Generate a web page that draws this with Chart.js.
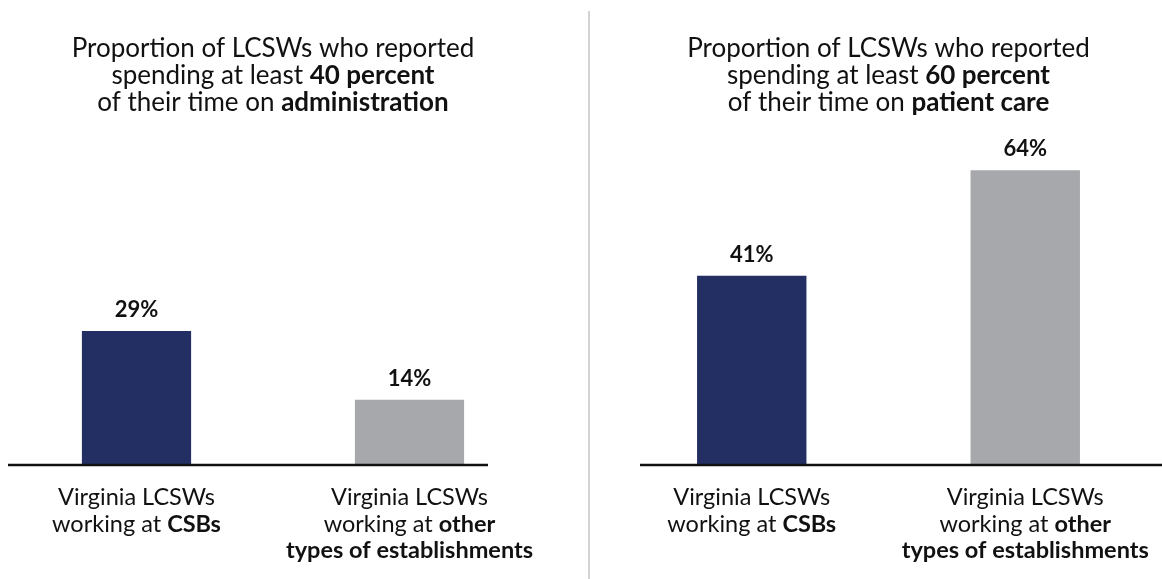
<!DOCTYPE html>
<html>
<head>
<meta charset="utf-8">
<script src="https://cdn.jsdelivr.net/npm/chart.js@4/dist/chart.umd.min.js"></script>
<style>
  html, body { margin: 0; padding: 0; background: #ffffff; }
  #wrap { position: relative; width: 1162px; height: 579px; overflow: hidden; }
  .panel { position: absolute; top: 0; height: 579px; }
  #p1 { left: 0; width: 590px; }
  #p2 { left: 591px; width: 571px; }
  #divider { position: absolute; left: 588px; top: 11px; width: 2px; height: 568px; background: #d3d3d3; }
</style>
</head>
<body>
<div id="wrap">
  <div class="panel" id="p1"><canvas id="c1"></canvas></div>
  <div id="divider"></div>
  <div class="panel" id="p2"><canvas id="c2"></canvas></div>
</div>
<script>
// ---- data ----
const categories = [
  "Virginia LCSWs\nworking at **CSBs**",
  "Virginia LCSWs\nworking at **other**\n**types of establishments**"
];
const adminValues = [29, 14];
const patientCareValues = [41, 64];
const adminTitle = "Proportion of LCSWs who reported\nspending at least **40 percent**\nof their time on **administration**";
const patientCareTitle = "Proportion of LCSWs who reported\nspending at least **60 percent**\nof their time on **patient care**";
const barColors = ["#232f62", "#a7a8ac"];

// ---- rich text helper ----
const FONT = "Lato, 'Open Sans', sans-serif";
function parseRuns(line) {
  const parts = line.split("**");
  return parts.map((t, i) => ({ t, b: i % 2 === 1 })).filter(r => r.t.length);
}
function drawRich(ctx, text, cx, y0, lh, size) {
  text.split("\n").forEach((line, li) => {
    const runs = parseRuns(line);
    let total = 0;
    runs.forEach(r => {
      ctx.font = (r.b ? "bold " : "") + size + "px " + FONT;
      r.w = ctx.measureText(r.t).width;
      total += r.w;
    });
    let x = cx - total / 2;
    runs.forEach(r => {
      ctx.font = (r.b ? "bold " : "") + size + "px " + FONT;
      ctx.fillText(r.t, x, y0 + li * lh);
      x += r.w;
    });
  });
}

const decorPlugin = {
  id: "decor",
  afterDatasetsDraw(chart, args, opts) {
    const ctx = chart.ctx;
    const area = chart.chartArea;
    ctx.save();
    ctx.fillStyle = "#111111";
    ctx.textBaseline = "alphabetic";
    ctx.textAlign = "left";
    // title
    drawRich(ctx, opts.title, (area.left + area.right) / 2, opts.titleY, opts.titleLH, opts.titleSize);
    // baseline
    const yBase = chart.scales.y.getPixelForValue(0);
    ctx.strokeStyle = "#111111";
    ctx.lineWidth = 2.5;
    ctx.beginPath();
    ctx.moveTo(opts.lineFrom, yBase + 1);
    ctx.lineTo(opts.lineTo, yBase + 1);
    ctx.stroke();
    // value labels + category labels
    const meta = chart.getDatasetMeta(0);
    meta.data.forEach((bar, i) => {
      const v = chart.data.datasets[0].data[i];
      ctx.font = "bold 22px " + FONT;
      ctx.textAlign = "center";
      ctx.fillText(v + "%", bar.x, bar.y - 14);
      ctx.textAlign = "left";
      drawRich(ctx, chart.data.labels[i], bar.x, opts.catY, opts.catLH, opts.catSize);
    });
    ctx.restore();
  }
};

function makeChart(id, values, title, padL, padR, lineFrom, lineTo) {
  return new Chart(document.getElementById(id), {
    type: "bar",
    data: {
      labels: categories,
      datasets: [{ data: values, backgroundColor: barColors, borderWidth: 0,
                   categoryPercentage: 1, barPercentage: 0.4 }]
    },
    options: {
      responsive: true,
      maintainAspectRatio: false,
      animation: false,
      layout: { padding: { top: 5, bottom: 115, left: padL, right: padR } },
      scales: {
        x: { display: false, grid: { display: false } },
        y: { display: false, min: 0, max: 100 }
      },
      plugins: {
        legend: { display: false },
        tooltip: { enabled: false },
        decor: { title, titleY: 57, titleLH: 27, titleSize: 26,
                 catY: 505, catLH: 26.5, catSize: 23.5, lineFrom, lineTo }
      }
    },
    plugins: [decorPlugin]
  });
}

makeChart("c1", adminValues, adminTitle, 0, 44, 8, 488);
makeChart("c2", patientCareValues, patientCareTitle, 24, 0, 49, 571);
</script>
</body>
</html>
